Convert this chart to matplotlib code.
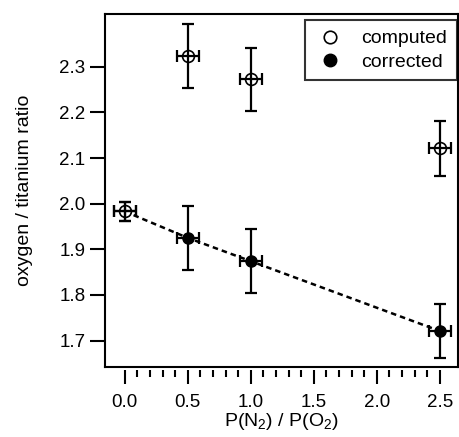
import matplotlib
matplotlib.use("Agg")
import matplotlib.pyplot as plt
from matplotlib.ticker import FixedLocator
from matplotlib.lines import Line2D

plt.rcParams['font.family'] = ['Liberation Sans', 'DejaVu Sans']
plt.rcParams['mathtext.default'] = 'regular'

# data
ratio = [0.0, 0.5, 1.0, 2.5]
ratio_err = [0.085, 0.085, 0.085, 0.085]
computed = [1.983, 2.324, 2.272, 2.121]
computed_err = [0.02, 0.07, 0.07, 0.06]
corrected = [1.983, 1.925, 1.874, 1.721]
corrected_err = [0.02, 0.07, 0.07, 0.06]

fig = plt.figure(figsize=(4.6, 4.37), dpi=100)
ax = fig.add_axes([0.228, 0.161, 0.768, 0.807])

# dashed trend line through corrected points
ax.plot(ratio, corrected, color='black', lw=1.8, ls=(0, (2.2, 1.6)), zorder=1)

# markers first, error bars drawn over them (cross shows through open circles)
ax.plot(ratio, corrected, 'o', ms=8, mfc='black', mec='black', zorder=2)
ax.plot(ratio, computed, 'o', ms=8.5, mfc='white', mec='black', mew=1.2,
        zorder=3)
for yv, ye in [(corrected, corrected_err), (computed, computed_err)]:
    ax.errorbar(ratio, yv, yerr=ye, xerr=ratio_err, fmt='none',
                ecolor='black', elinewidth=1.6, capsize=4, capthick=1.6,
                zorder=4)

ax.set_xlim(-0.158, 2.645)
ax.set_ylim(1.643, 2.4155)
ax.set_xticks([0.0, 0.5, 1.0, 1.5, 2.0, 2.5])
ax.set_xticklabels(['0.0', '0.5', '1.0', '1.5', '2.0', '2.5'])
ax.xaxis.set_minor_locator(FixedLocator([i / 10 for i in range(26)]))
ax.set_yticks([1.7, 1.8, 1.9, 2.0, 2.1, 2.2, 2.3])
ax.set_yticklabels(['1.7', '1.8', '1.9', '2.0', '2.1', '2.2', '2.3'])

# bottom ticks sit a little below the frame
ax.spines['bottom'].set_position(('outward', 2.2))
ax.spines['bottom'].set_visible(False)
ax.plot([0, 1], [0, 0], transform=ax.transAxes, color='black', lw=1.5,
        clip_on=False, solid_capstyle='projecting', zorder=5)

ax.tick_params(axis='x', which='major', direction='out', length=10,
               width=1.5, labelsize=13.5, pad=7.5)
ax.tick_params(axis='x', which='minor', direction='out', length=5, width=1.5)
ax.tick_params(axis='y', which='major', direction='out', length=11,
               width=1.5, labelsize=13.5, pad=3)
ax.tick_params(axis='y', which='minor', left=False)

for s in ['top', 'left', 'right']:
    ax.spines[s].set_linewidth(1.5)

ax.set_xlabel('P(N$_2$) / P(O$_2$)', fontsize=14, labelpad=0)
ax.set_ylabel('oxygen / titanium ratio', fontsize=14, labelpad=19)

handles = [Line2D([], [], ls='none', marker='o', ms=9, mfc='white',
                  mec='black', mew=1.2),
           Line2D([], [], ls='none', marker='o', ms=9, mfc='black',
                  mec='black')]
leg = ax.legend(handles, ['computed', 'corrected'], loc='upper right',
                bbox_to_anchor=(0.996, 0.983), borderaxespad=0, fontsize=14,
                frameon=True, fancybox=False, edgecolor='black',
                handlelength=1.6, handletextpad=0.8, borderpad=0.5,
                labelspacing=0.3)
leg.get_frame().set_linewidth(1.5)

fig.savefig('out.png', dpi=100)
